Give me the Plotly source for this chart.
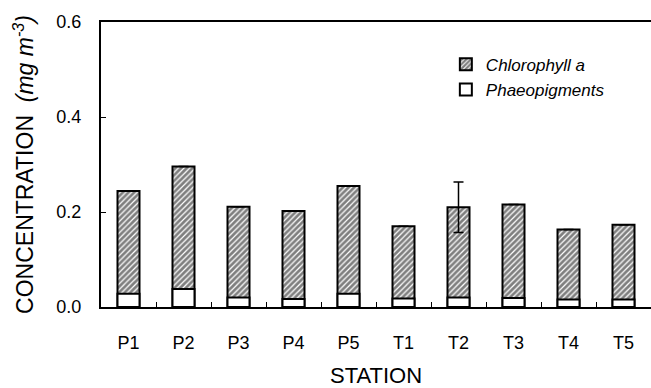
import plotly.graph_objects as go

stations = ["P1", "P2", "P3", "P4", "P5", "T1", "T2", "T3", "T4", "T5"]
chlorophyll_a = [0.244, 0.296, 0.211, 0.202, 0.255, 0.170, 0.210, 0.216, 0.163, 0.173]
phaeopigments = [0.028, 0.038, 0.020, 0.017, 0.028, 0.018, 0.020, 0.019, 0.016, 0.016]
chl_error = [0, 0, 0, 0, 0, 0, 0.053, 0, 0, 0]
err_visible = [False, False, False, False, False, False, True, False, False, False]

err_arr = [e if v else None for e, v in zip(chl_error, err_visible)]

fig = go.Figure()
fig.add_trace(go.Bar(
    x=stations, y=chlorophyll_a, name="<i>Chlorophyll a</i>",
    width=0.4, legendgroup="chl",
    marker=dict(color="white", line=dict(color="black", width=2),
                pattern=dict(shape="/", fgcolor="#000", bgcolor="white", size=4, solidity=0.7)),
    error_y=dict(type="data", array=err_arr, color="black", thickness=1.5, width=5),
))
fig.add_trace(go.Bar(
    x=stations, y=phaeopigments, name="<i>Phaeopigments</i>",
    width=0.4, legendgroup="ph",
    marker=dict(color="white", line=dict(color="black", width=2)),
))

font_family = "Liberation Sans, Arial, sans-serif"
fig.update_layout(
    width=651, height=388,
    margin=dict(l=101, r=0, t=22, b=81),
    barmode="overlay",
    plot_bgcolor="white", paper_bgcolor="white",
    font=dict(family=font_family, color="black", size=17),
    showlegend=True,
    legend=dict(x=0.627, y=0.913, xanchor="left", yanchor="top",
                font=dict(size=17, family=font_family),
                tracegroupgap=7,
                bgcolor="rgba(0,0,0,0)", traceorder="normal"),
    xaxis=dict(
        title=dict(text="STATION", font=dict(size=22), standoff=16),
        showline=True, linecolor="black", linewidth=2, mirror=True,
        ticks="inside", tickson="boundaries", ticklen=5, tickcolor="black",
        ticklabelstandoff=18, tickfont=dict(size=18),
        range=[-0.5, 9.5],
    ),
    yaxis=dict(
        title=dict(text="CONCENTRATION  <i>(mg m<sup>-3</sup>)</i>", font=dict(size=23), standoff=16),
        range=[0, 0.6], tickvals=[0, 0.2, 0.4, 0.6], tickformat=".1f",
        showline=True, linecolor="black", linewidth=2, mirror=False,
        ticks="inside", ticklen=5, tickcolor="black",
        ticklabelstandoff=14, tickfont=dict(size=18),
        showgrid=False, zeroline=False,
    ),
)

fig.write_html("out.html")
